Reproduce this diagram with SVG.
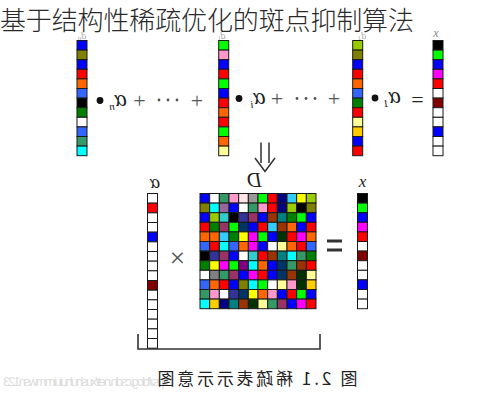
<svg xmlns="http://www.w3.org/2000/svg" width="498" height="400" viewBox="0 0 498 400">
<style>
.c rect{stroke:#1a1a1a;stroke-width:1}
.v rect{width:10px;height:9.6px}
.m rect{width:9.67px;height:9.6px}
.lv rect{width:10px;height:9.67px}
.lbl{font-family:"Liberation Serif",serif;font-style:italic;fill:#222}
.op{font-family:"Liberation Serif",serif;fill:#555}
.title{font-family:"Noto Sans CJK SC",sans-serif;font-size:26px;font-weight:300;fill:#2a2a2a}
.cap{font-family:"Noto Sans CJK SC",sans-serif;font-size:17px;fill:#222}
.ln{stroke:#333;stroke-width:1.5;fill:none}
</style>

<!-- faint top labels -->
<g id="top-labels">
<text class="lbl" font-size="10" style="fill:#aaa" x="82" y="39" text-anchor="middle" transform="matrix(-1 0 0 1 164 0)">d<tspan font-size="7" dy="0.5">n</tspan></text>
<text class="lbl" font-size="10" style="fill:#aaa" x="222" y="39" text-anchor="middle" transform="matrix(-1 0 0 1 444 0)">d<tspan font-size="7" dy="0.5">i</tspan></text>
<text class="lbl" font-size="10" style="fill:#aaa" x="362" y="39" text-anchor="middle" transform="matrix(-1 0 0 1 724 0)">d<tspan font-size="7" dy="0.5">1</tspan></text>
<text class="lbl" font-size="12" style="fill:#888" x="436" y="37" text-anchor="middle">x</text>
</g>

<text class="title" x="0" y="30" textLength="414">基于结构性稀疏优化的斑点抑制算法</text>

<!-- top row vectors -->
<g id="vec-dn" class="c v" transform="translate(77,40.5)">
<rect y="0" fill="#0000ff"/><rect y="9.6" fill="#808000"/><rect y="19.2" fill="#0000ff"/><rect y="28.8" fill="#ff0000"/><rect y="38.4" fill="#ff6600"/><rect y="48" fill="#3366ff"/><rect y="57.6" fill="#000000"/><rect y="67.2" fill="#008000"/><rect y="76.8" fill="#ffffff"/><rect y="86.4" fill="#3366ff"/><rect y="96" fill="#339966"/><rect y="105.6" fill="#00ffff"/>
</g>
<g id="vec-di" class="c v" transform="translate(218.7,40.5)">
<rect y="0" fill="#00ff00"/><rect y="9.6" fill="#ff99cc"/><rect y="19.2" fill="#0000ff"/><rect y="28.8" fill="#ff0000"/><rect y="38.4" fill="#00ff00"/><rect y="48" fill="#0000ff"/><rect y="57.6" fill="#ff0000"/><rect y="67.2" fill="#ff6600"/><rect y="76.8" fill="#ff0000"/><rect y="86.4" fill="#00ff00"/><rect y="96" fill="#ff6600"/><rect y="105.6" fill="#ffff99"/>
</g>
<g id="vec-d1" class="c v" transform="translate(352.7,40.5)">
<rect y="0" fill="#99cc00"/><rect y="9.6" fill="#808000"/><rect y="19.2" fill="#0000ff"/><rect y="28.8" fill="#ff0000"/><rect y="38.4" fill="#ff6600"/><rect y="48" fill="#3366ff"/><rect y="57.6" fill="#008000"/><rect y="67.2" fill="#ff0000"/><rect y="76.8" fill="#ffff99"/><rect y="86.4" fill="#ffcc00"/><rect y="96" fill="#0000ff"/><rect y="105.6" fill="#ff0000"/>
</g>
<g id="vec-x-top" class="c v" transform="translate(433,40.5)">
<rect y="0" fill="#000000"/><rect y="9.6" fill="#00ff00"/><rect y="19.2" fill="#0000ff"/><rect y="28.8" fill="#ff00ff"/><rect y="38.4" fill="#ff0000"/><rect y="48" fill="#ffffff"/><rect y="57.6" fill="#800000"/><rect y="67.2" fill="#ffffff"/><rect y="76.8" fill="#ffffff"/><rect y="86.4" fill="#0000ff"/><rect y="96" fill="#ffffff"/><rect y="105.6" fill="#ffffff"/>
</g>

<!-- top row operators -->
<g id="top-ops">
<circle cx="100" cy="100.5" r="3.4" fill="#111"/>
<text class="lbl" font-size="23" x="118" y="106" text-anchor="middle" transform="matrix(-1 0 0 1 236 0)">α<tspan font-size="11" dy="4">n</tspan></text>
<text class="op" font-size="22" x="139.5" y="108" text-anchor="middle">+</text>
<g fill="#555"><circle cx="159" cy="100" r="1.4"/><circle cx="168" cy="100" r="1.4"/><circle cx="177" cy="100" r="1.4"/></g>
<text class="op" font-size="22" x="197" y="108" text-anchor="middle">+</text>

<circle cx="239" cy="98.5" r="3.4" fill="#111"/>
<text class="lbl" font-size="23" x="258" y="104" text-anchor="middle" transform="matrix(-1 0 0 1 516 0)">α<tspan font-size="11" dy="4">i</tspan></text>
<text class="op" font-size="22" x="277" y="106" text-anchor="middle">+</text>
<g fill="#555"><circle cx="297" cy="98.5" r="1.4"/><circle cx="306" cy="98.5" r="1.4"/><circle cx="315" cy="98.5" r="1.4"/></g>
<text class="op" font-size="22" x="334" y="106" text-anchor="middle">+</text>

<circle cx="375" cy="98" r="3.4" fill="#111"/>
<text class="lbl" font-size="23" x="392" y="103" text-anchor="middle" transform="matrix(-1 0 0 1 784 0)">α<tspan font-size="11" dy="4">1</tspan></text>
<text class="op" font-size="22" x="417.5" y="107" text-anchor="middle" style="fill:#222">=</text>
</g>

<!-- connectors: double arrow and brace -->
<g id="connectors">
<path class="ln" d="M261,142.5 V163 M269,142.5 V163"/>
<path class="ln" d="M255,158 L265,171.5 L275,158"/>
<path class="ln" d="M138,334 V349 H320 V334" style="stroke-width:1.6"/>
</g>

<!-- lower labels -->
<g id="lower-labels">
<text class="lbl" font-size="19" x="155" y="188" text-anchor="middle" transform="matrix(-1 0 0 1 310 0)">α</text>
<text class="lbl" font-size="20" x="254.5" y="187" text-anchor="middle" transform="matrix(-1 0 0 1 509 0)">D</text>
<text class="lbl" font-size="17" x="362.5" y="187" text-anchor="middle">x</text>
</g>

<!-- alpha vector -->
<g id="vec-alpha" class="c lv" transform="translate(147.5,193.5)">
<rect y="0" fill="#ffffff"/><rect y="9.67" fill="#ff0000"/><rect y="19.33" fill="#ffffff"/><rect y="29" fill="#ffffff"/><rect y="38.67" fill="#0000ff"/><rect y="48.33" fill="#ffffff"/><rect y="58" fill="#ffffff"/><rect y="67.67" fill="#ffffff"/><rect y="77.33" fill="#ffffff"/><rect y="87" fill="#800000"/><rect y="96.67" fill="#ffffff"/><rect y="106.33" fill="#ffffff"/><rect y="116" fill="#ffffff"/><rect y="125.67" fill="#ffffff"/><rect y="135.33" fill="#ffffff"/><rect y="145" fill="#ffffff"/>
</g>

<g id="times"><text class="op" font-size="28" x="177.5" y="266.5" text-anchor="middle">×</text></g>

<!-- matrix D -->
<g id="matrix-D" class="c m" transform="translate(200,193.5)">
<g transform="translate(0,0)"><rect x="0" fill="#0000ff"/><rect x="9.67" fill="#ffffff"/><rect x="19.33" fill="#339966"/><rect x="29" fill="#ff99cc"/><rect x="38.67" fill="#ffe6e6"/><rect x="48.33" fill="#999999"/><rect x="58" fill="#00ff00"/><rect x="67.67" fill="#ff0000"/><rect x="77.33" fill="#000080"/><rect x="87" fill="#33ccff"/><rect x="96.67" fill="#ffff00"/><rect x="106.33" fill="#99cc00"/></g>
<g transform="translate(0,9.6)"><rect x="0" fill="#808000"/><rect x="9.67" fill="#00ffff"/><rect x="19.33" fill="#996699"/><rect x="29" fill="#0000ff"/><rect x="38.67" fill="#ffffff"/><rect x="48.33" fill="#339966"/><rect x="58" fill="#ff99cc"/><rect x="67.67" fill="#ff0000"/><rect x="77.33" fill="#000080"/><rect x="87" fill="#99cc00"/><rect x="96.67" fill="#000000"/><rect x="106.33" fill="#808000"/></g>
<g transform="translate(0,19.2)"><rect x="0" fill="#0000ff"/><rect x="9.67" fill="#99cc00"/><rect x="19.33" fill="#33cccc"/><rect x="29" fill="#000000"/><rect x="38.67" fill="#333399"/><rect x="48.33" fill="#993366"/><rect x="58" fill="#0000ff"/><rect x="67.67" fill="#993300"/><rect x="77.33" fill="#008080"/><rect x="87" fill="#008000"/><rect x="96.67" fill="#00ff00"/><rect x="106.33" fill="#0000ff"/></g>
<g transform="translate(0,28.8)"><rect x="0" fill="#ff0000"/><rect x="9.67" fill="#008000"/><rect x="19.33" fill="#993366"/><rect x="29" fill="#00ff00"/><rect x="38.67" fill="#003366"/><rect x="48.33" fill="#0000ff"/><rect x="58" fill="#ff0000"/><rect x="67.67" fill="#33ccff"/><rect x="77.33" fill="#993300"/><rect x="87" fill="#ff6600"/><rect x="96.67" fill="#0000ff"/><rect x="106.33" fill="#ff0000"/></g>
<g transform="translate(0,38.4)"><rect x="0" fill="#ff6600"/><rect x="9.67" fill="#ff6600"/><rect x="19.33" fill="#33ccff"/><rect x="29" fill="#008000"/><rect x="38.67" fill="#ffff00"/><rect x="48.33" fill="#ff00ff"/><rect x="58" fill="#00ff00"/><rect x="67.67" fill="#0000ff"/><rect x="77.33" fill="#003300"/><rect x="87" fill="#ff0000"/><rect x="96.67" fill="#ff00ff"/><rect x="106.33" fill="#ff6600"/></g>
<g transform="translate(0,48)"><rect x="0" fill="#3366ff"/><rect x="9.67" fill="#ff0000"/><rect x="19.33" fill="#00ffff"/><rect x="29" fill="#3366ff"/><rect x="38.67" fill="#ff6600"/><rect x="48.33" fill="#ff00ff"/><rect x="58" fill="#0000ff"/><rect x="67.67" fill="#ffffff"/><rect x="77.33" fill="#ffff99"/><rect x="87" fill="#ff6600"/><rect x="96.67" fill="#ff0000"/><rect x="106.33" fill="#3366ff"/></g>
<g transform="translate(0,57.6)"><rect x="0" fill="#000000"/><rect x="9.67" fill="#333399"/><rect x="19.33" fill="#993366"/><rect x="29" fill="#0000ff"/><rect x="38.67" fill="#ffffff"/><rect x="48.33" fill="#33cccc"/><rect x="58" fill="#ff0000"/><rect x="67.67" fill="#993300"/><rect x="77.33" fill="#008080"/><rect x="87" fill="#00ffff"/><rect x="96.67" fill="#339966"/><rect x="106.33" fill="#008000"/></g>
<g transform="translate(0,67.2)"><rect x="0" fill="#008000"/><rect x="9.67" fill="#ffff00"/><rect x="19.33" fill="#ff00ff"/><rect x="29" fill="#00ff00"/><rect x="38.67" fill="#800080"/><rect x="48.33" fill="#00ffff"/><rect x="58" fill="#ff6600"/><rect x="67.67" fill="#0000ff"/><rect x="77.33" fill="#003366"/><rect x="87" fill="#339966"/><rect x="96.67" fill="#993300"/><rect x="106.33" fill="#ff0000"/></g>
<g transform="translate(0,76.8)"><rect x="0" fill="#ffffff"/><rect x="9.67" fill="#808080"/><rect x="19.33" fill="#339966"/><rect x="29" fill="#993366"/><rect x="38.67" fill="#0000ff"/><rect x="48.33" fill="#ff00ff"/><rect x="58" fill="#ff0000"/><rect x="67.67" fill="#0000ff"/><rect x="77.33" fill="#003366"/><rect x="87" fill="#993300"/><rect x="96.67" fill="#003300"/><rect x="106.33" fill="#ffff99"/></g>
<g transform="translate(0,86.4)"><rect x="0" fill="#3366ff"/><rect x="9.67" fill="#ff6600"/><rect x="19.33" fill="#ff0000"/><rect x="29" fill="#0000ff"/><rect x="38.67" fill="#808000"/><rect x="48.33" fill="#00ffff"/><rect x="58" fill="#00ff00"/><rect x="67.67" fill="#ffffff"/><rect x="77.33" fill="#ffff99"/><rect x="87" fill="#ff99cc"/><rect x="96.67" fill="#003300"/><rect x="106.33" fill="#ffcc00"/></g>
<g transform="translate(0,96)"><rect x="0" fill="#339966"/><rect x="9.67" fill="#ff99cc"/><rect x="19.33" fill="#ffffff"/><rect x="29" fill="#333399"/><rect x="38.67" fill="#003366"/><rect x="48.33" fill="#ffff00"/><rect x="58" fill="#ff6600"/><rect x="67.67" fill="#ff99cc"/><rect x="77.33" fill="#0000ff"/><rect x="87" fill="#ff0000"/><rect x="96.67" fill="#00ff00"/><rect x="106.33" fill="#0000ff"/></g>
<g transform="translate(0,105.6)"><rect x="0" fill="#00ffff"/><rect x="9.67" fill="#ffcc00"/><rect x="19.33" fill="#000080"/><rect x="29" fill="#008080"/><rect x="38.67" fill="#993300"/><rect x="48.33" fill="#003300"/><rect x="58" fill="#ffff99"/><rect x="67.67" fill="#339966"/><rect x="77.33" fill="#993366"/><rect x="87" fill="#0000ff"/><rect x="96.67" fill="#ff00ff"/><rect x="106.33" fill="#ff0000"/></g>
</g>

<g id="equals"><rect x="327" y="239.5" width="15" height="3" fill="#333"/><rect x="327" y="248.5" width="15" height="3" fill="#333"/></g>

<!-- x vector -->
<g id="vec-x" class="c v" transform="translate(357.5,193.5)">
<rect y="0" fill="#000000"/><rect y="9.6" fill="#00ff00"/><rect y="19.2" fill="#0000ff"/><rect y="28.8" fill="#ff00ff"/><rect y="38.4" fill="#ff0000"/><rect y="48" fill="#ffffff"/><rect y="57.6" fill="#800000"/><rect y="67.2" fill="#ffffff"/><rect y="76.8" fill="#ffffff"/><rect y="86.4" fill="#0000ff"/><rect y="96" fill="#ffffff"/><rect y="105.6" fill="#ffffff"/>
</g>

<!-- watermark and caption -->
<text x="88" y="386" font-family="Liberation Sans, sans-serif" font-size="13" fill="#dcdcdc" text-anchor="middle" textLength="170" transform="matrix(-1 0 0 1 176 0)">https://blog.csdn.net/xushuhuiuimmwsn123</text>
<text class="cap" x="257.5" y="385" text-anchor="middle" textLength="200" transform="matrix(-1 0 0 1 515 0)">图 2.1 稀疏表示示意图</text>
</svg>
